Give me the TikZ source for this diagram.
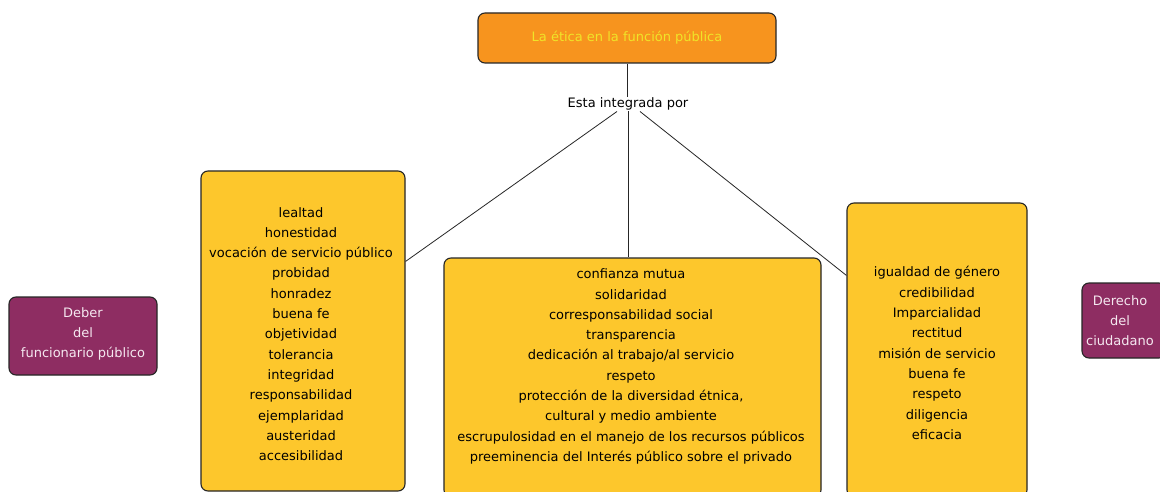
\documentclass[tikz,border=0pt]{standalone}
\usepackage{fontspec}
\setmainfont{DejaVu Sans}
\definecolor{orangefill}{RGB}{247,148,30}
\definecolor{yellowfill}{RGB}{253,199,44}
\definecolor{plum}{RGB}{142,45,98}
\definecolor{titletext}{RGB}{240,228,40}
\definecolor{plumtext}{RGB}{245,232,240}
\tikzset{
  box/.style={draw=black!85, line width=1.1pt, rounded corners=7pt, inner sep=0pt},
  txt/.style={font=\fontsize{13}{20.3}\selectfont, align=center, inner sep=0pt, text=black},
  ptxt/.style={font=\fontsize{13}{20}\selectfont, align=center, inner sep=0pt, text=plumtext},
  link/.style={draw=black!85, line width=0.8pt}
}
\begin{document}
\begin{tikzpicture}[x=1pt,y=-1pt]
\fill[white] (0,0) rectangle (1160,492);
\useasboundingbox (0,0) rectangle (1160,492);

% title
\node[box, fill=orangefill, minimum width=298, minimum height=50,
      font=\fontsize{13}{16}\selectfont, text=titletext] (top) at (627,38) {La ética en la función pública};
\node[txt, inner sep=1pt] (lbl) at (628,104) {Esta integrada por};

% boxes
\node[box, fill=yellowfill, minimum width=204, minimum height=320] (lb) at (303,331) {};
\node[box, fill=yellowfill, minimum width=377, minimum height=239] (mb) at (632.5,377.5) {};
\node[box, fill=yellowfill, minimum width=180, minimum height=294] (rb) at (937,350) {};
\node[box, fill=plum, minimum width=148, minimum height=78] (deb) at (83,336) {};
\node[box, fill=plum, minimum width=84, minimum height=75] (der) at (1124,320.5) {};

% texts
\node[txt] (lbt) at (301,334) {lealtad\\honestidad\\vocación de servicio público\\probidad\\honradez\\buena fe\\objetividad\\tolerancia\\integridad\\responsabilidad\\ejemplaridad\\austeridad\\accesibilidad};
\node[txt] (mbt) at (631,366.5) {confianza mutua\\solidaridad\\corresponsabilidad social\\transparencia\\dedicación al trabajo/al servicio\\respeto\\protección de la diversidad étnica,\\cultural y medio ambiente\\escrupulosidad en el manejo de los recursos públicos\\preeminencia del Interés público sobre el privado};
\node[txt] (rbt) at (937,353) {igualdad de género\\credibilidad\\Imparcialidad\\rectitud\\misión de servicio\\buena fe\\respeto\\diligencia\\eficacia};
\node[ptxt] (debt) at (83,334) {Deber\\del\\funcionario público};
\node[ptxt] (dert) at (1120,321) {Derecho\\del\\ciudadano};

% connectors
\draw[link] (top.south) -- (top.south |- lbl.north);
\draw[link] ([xshift=-11pt]lbl.south) -- ([yshift=-91pt]lb.north east);
\draw[link] (lbl.south) -- (lbl.south |- mb.north);
\draw[link] ([xshift=12pt]lbl.south) -- ([yshift=-73pt]rb.north west);
\end{tikzpicture}
\end{document}
